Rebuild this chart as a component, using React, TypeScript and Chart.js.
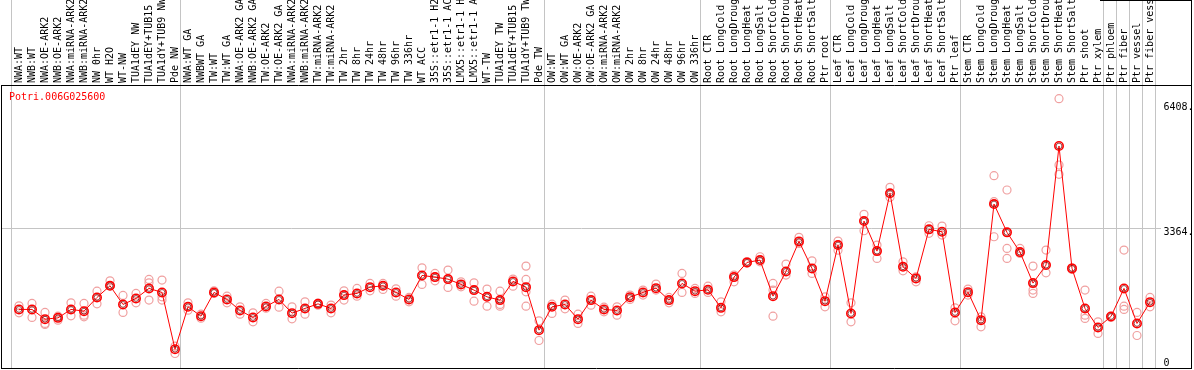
import React, { useEffect, useRef } from 'react';
import { Chart, registerables } from 'chart.js';

Chart.register(...registerables);

const geneId = 'Potri.006G025600';

const categories = [
  'NWA:WT', 'NWB:WT', 'NWA:OE-ARK2', 'NWB:OE-ARK2', 'NWA:miRNA-ARK2', 'NWB:miRNA-ARK2', 'NW 0hr', 'WT H2O', 'WT-NW',
  'TUA1dEY NW', 'TUA1dEY+TUB15', 'TUA1dY+TUB9 NW', 'Pde NW',
  'NWA:WT GA', 'NWBWT GA', 'TW:WT', 'TW:WT GA', 'NWA:OE-ARK2 GA', 'NWB:OE-ARK2 GA', 'TW:OE-ARK2', 'TW:OE-ARK2 GA',
  'NWA:miRNA-ARK2', 'NWB:miRNA-ARK2', 'TW:miRNA-ARK2', 'TW:miRNA-ARK2', 'TW 2hr', 'TW 8hr', 'TW 24hr', 'TW 48hr',
  'TW 96hr', 'TW 336hr', 'WT ACC', '35S::etr1-1 H2', '35S::etr1-1 AC', 'LMX5::etr1-1 H', 'LMX5::etr1-1 A', 'WT-TW',
  'TUA1dEY TW', 'TUA1dEY+TUB15', 'TUA1dY+TUB9 TW', 'Pde TW',
  'OW:WT', 'OW:WT GA', 'OW:OE-ARK2', 'OW:OE-ARK2 GA', 'OW:miRNA-ARK2', 'OW:miRNA-ARK2', 'OW 2hr', 'OW 8hr', 'OW 24hr',
  'OW 48hr', 'OW 96hr', 'OW 336hr',
  'Root CTR', 'Root LongCold', 'Root LongDroug', 'Root LongHeat', 'Root LongSalt', 'Root ShortCold', 'Root ShortDrou',
  'Root ShortHeat', 'Root ShortSalt', 'Ptr root',
  'Leaf CTR', 'Leaf LongCold', 'Leaf LongDroug', 'Leaf LongHeat', 'Leaf LongSalt', 'Leaf ShortCold', 'Leaf ShortDrou',
  'Leaf ShortHeat', 'Leaf ShortSalt', 'Ptr leaf',
  'Stem CTR', 'Stem LongCold', 'Stem LongDroug', 'Stem LongHeat', 'Stem LongSalt', 'Stem ShortCold', 'Stem ShortDrou',
  'Stem ShortHeat', 'Stem ShortSalt', 'Ptr shoot', 'Ptr xylem',
  'Ptr phloem', 'Ptr fiber', 'Ptr vessel', 'Ptr fiber vess',
];

const groupSizes = [13, 28, 12, 10, 10, 11, 1, 1, 1, 1];

const meanValues = [
  1404, 1404, 1169, 1200, 1404, 1362, 1694, 1975, 1525, 1670, 1912, 1815, 443,
  1467, 1241, 1815, 1646, 1379, 1210, 1476, 1646, 1314, 1428, 1539, 1428, 1750, 1791, 1943, 1975,
  1815, 1646, 2226, 2185, 2137, 2009, 1871, 1709, 1629, 2081, 1943, 903,
  1467, 1525, 1169, 1629, 1404, 1379, 1701, 1815, 1919, 1629, 2033, 1846,
  1878, 1442, 2185, 2541, 2597, 1725, 2323, 3049, 2396, 1604,
  2960, 1307, 3540, 2814, 4211, 2435, 2154, 3340, 3282, 1331,
  1822, 1145, 3952, 3267, 2790, 2040, 2476, 5355, 2396, 1428, 968,
  1234, 1912, 1065, 1580,
];

const rep1 = [
  1491, 1549, 1331, 1241, 1563, 1549, 1846, 2096, 1742, 1791, 2130, 2113, 515,
  1563, 1290, 1854, 1725, 1467, 1321, 1549, 1846, 1467, 1588, 1556, 1508, 1854, 1912, 2033, 2033,
  1902, 1694, 2410, 2275, 2355, 2072, 2047, 1895, 1846, 2137, 2451, 1128,
  1532, 1629, 1290, 1725, 1459, 1467, 1750, 1871, 2016, 1694, 2275, 1912,
  1967, 1588, 2234, 2560, 2677, 2033, 2500, 3146, 2580, 1709,
  3056, 1563, 3703, 2960, 4356, 2556, 2193, 3427, 3419, 1442,
  1895, 1225, 4637, 4291, 2880, 2451, 2839, 6500, 2410, 1871, 1104,
  1234, 2839, 1331, 1694,
];

const rep2 = [
  1321, 1210, 1065, 1145, 1249, 1266, 1539, 1975, 1331, 1563, 2047, 1709, 339,
  1387, 1193, 1791, 1563, 1290, 1104, 1435, 1459, 1176, 1290, 1508, 1321, 1629, 1725, 1854, 1888,
  1725, 1588, 2009, 2096, 1936, 1951, 1604, 1483, 1525, 1967, 2130, 653,
  1307, 1418, 1065, 1508, 1346, 1266, 1646, 1750, 1871, 1563, 1815, 1791,
  1815, 1346, 2072, 2520, 2556, 1871, 2234, 3001, 2275, 1467,
  2837, 1104, 3306, 2638, 4114, 2338, 2072, 3243, 3201, 1128,
  1750, 983, 4008, 2880, 2759, 1871, 2289, 4896, 2372, 1266, 823,
  1210, 1483, 774, 1467,
];

const rep3 = [
  null, null, 1041, null, null, 1225, null, null, null, null, 1629, 1629, null,
  null, null, null, null, null, null, null, null, null, null, null, null, null, null, null, null,
  null, null, null, null, null, null, null, null, 1483, null, 1830, null,
  null, null, null, null, null, null, null, null, null, null, null, null,
  null, null, null, null, null, 1241, null, null, null, null,
  null, null, null, null, null, null, null, null, null, null,
  null, null, 3161, 2638, null, 1791, null, 4671, null, 1186, null,
  null, 1404, null, null,
];

const rep4 = [
  null, null, null, null, null, null, null, null, null, null, null, null, null,
  null, null, null, null, null, null, null, null, null, null, null, null, null, null, null, null,
  null, null, null, null, null, null, null, null, null, null, 1483, null,
  null, null, null, null, null, null, null, null, null, null, null, null,
  null, null, null, null, null, null, null, null, null, null,
  null, null, null, null, null, null, null, null, null, null,
  null, null, null, null, null, null, null, null, null, null, null,
  null, null, null, null,
];

const yTickValues = [0, 3364, 6408];
const yTickLabels = ['0', '3364.', '6408.'];
const yMax = 6830;
const gridValue = 3364;

const MONO = '"DejaVu Sans Mono", monospace';

const decorPlugin = {
  id: 'decor',
  beforeDatasetsDraw(chart: any) {
    const { ctx, scales } = chart;
    const x = scales.x;
    const y = scales.y;
    const x0 = x.getPixelForValue(0);
    const step = x.getPixelForValue(1) - x0;
    ctx.save();
    ctx.lineWidth = 1;
    ctx.strokeStyle = '#c4c4c4';
    const bounds = [0];
    let acc = 0;
    groupSizes.forEach((s) => {
      acc += s;
      bounds.push(acc);
    });
    bounds.forEach((b) => {
      const px = Math.round(x0 + b * step - 8) + 0.5;
      ctx.beginPath();
      ctx.moveTo(px, 0);
      ctx.lineTo(px, 369);
      ctx.stroke();
    });
    const gy = Math.round(y.getPixelForValue(gridValue)) + 0.5;
    ctx.beginPath();
    ctx.moveTo(2, gy);
    ctx.lineTo(1161, gy);
    ctx.stroke();

    // frame
    ctx.strokeStyle = '#000';
    const top = Math.round(chart.chartArea.top) + 0.5;
    ctx.beginPath();
    ctx.moveTo(1, top);
    ctx.lineTo(1192, top);
    ctx.moveTo(1, 368.5);
    ctx.lineTo(1192, 368.5);
    ctx.moveTo(1.5, top);
    ctx.lineTo(1.5, 369);
    ctx.moveTo(1191.5, 0);
    ctx.lineTo(1191.5, 369);
    ctx.moveTo(1100, 0.5);
    ctx.lineTo(1192, 0.5);
    ctx.stroke();
    ctx.restore();
  },
  afterDraw(chart: any) {
    const { ctx } = chart;
    ctx.save();
    ctx.font = '10px ' + MONO;
    ctx.fillStyle = '#ff0000';
    ctx.textBaseline = 'middle';
    ctx.textAlign = 'left';
    ctx.fillText(geneId, 9, 97);
    ctx.restore();
  },
};

export default function App() {
  const ref = useRef<HTMLCanvasElement | null>(null);

  useEffect(() => {
    document.body.style.margin = '0';
    const canvas = ref.current;
    if (!canvas) return;
    const repStyle = {
      showLine: false,
      pointRadius: 4,
      pointHoverRadius: 4,
      pointBorderColor: '#f0a0a0',
      pointBackgroundColor: 'rgba(0,0,0,0)',
      pointBorderWidth: 1.2,
      borderColor: '#f0a0a0',
      order: 5,
    };
    const chart = new Chart(canvas, {
      type: 'line',
      data: {
        labels: categories,
        datasets: [
          {
            data: meanValues,
            borderColor: '#ff0000',
            borderWidth: 1,
            tension: 0,
            pointRadius: 4.2,
            pointHoverRadius: 4.2,
            pointBorderColor: '#ff0000',
            pointBorderWidth: 1.6,
            pointBackgroundColor: 'rgba(0,0,0,0)',
            order: 1,
          },
          {
            data: meanValues,
            showLine: false,
            pointRadius: 2.9,
            pointHoverRadius: 2.9,
            pointBorderColor: '#700000',
            pointBorderWidth: 0.7,
            pointBackgroundColor: 'rgba(0,0,0,0)',
            borderColor: '#700000',
            order: 0,
          },
          { data: rep1, ...repStyle },
          { data: rep2, ...repStyle },
          { data: rep3, ...repStyle },
          { data: rep4, ...repStyle },
        ],
      },
      options: {
        responsive: false,
        animation: false,
        devicePixelRatio: 1,
        clip: false,
        layout: { autoPadding: false, padding: { left: 12.5, right: 0, top: 0, bottom: 2.5 } },
        plugins: {
          legend: { display: false },
          tooltip: { enabled: false },
          title: { display: false },
        },
        scales: {
          x: {
            type: 'category',
            position: 'top',
            offset: true,
            grid: { display: false, drawTicks: false },
            border: { display: false },
            ticks: {
              autoSkip: false,
              minRotation: 90,
              maxRotation: 90,
              padding: 2,
              labelOffset: 12,
              color: '#000',
              font: { family: MONO, size: 10 },
            },
            afterFit: (s: any) => {
              s.height = 85;
              s.paddingLeft = 0;
              s.paddingRight = 0;
              s.paddingTop = 0;
              s.paddingBottom = 0;
            },
          },
          y: {
            position: 'right',
            min: 0,
            max: yMax,
            grid: { display: false, drawTicks: false },
            border: { display: false },
            afterBuildTicks: (s: any) => {
              s.ticks = yTickValues.map((v) => ({ value: v }));
            },
            ticks: {
              padding: 7,
              color: '#000',
              font: { family: MONO, size: 10, lineHeight: 0.9 },
              callback: (value: any) => {
                const i = yTickValues.indexOf(Number(value));
                const lbl = i >= 0 ? yTickLabels[i] : '';
                return Number(value) === 0 ? [lbl, ''] : ['', lbl];
              },
            },
            afterFit: (s: any) => {
              s.width = 37.5;
              s.paddingTop = 0;
              s.paddingBottom = 0;
              s.paddingLeft = 0;
              s.paddingRight = 0;
            },
          },
        },
      },
      plugins: [decorPlugin],
    });
    return () => chart.destroy();
  }, []);

  return (
    <div style={{ position: 'absolute', left: 0, top: 0, width: 1194, height: 370 }}>
      <canvas ref={ref} width={1194} height={370} />
    </div>
  );
}
